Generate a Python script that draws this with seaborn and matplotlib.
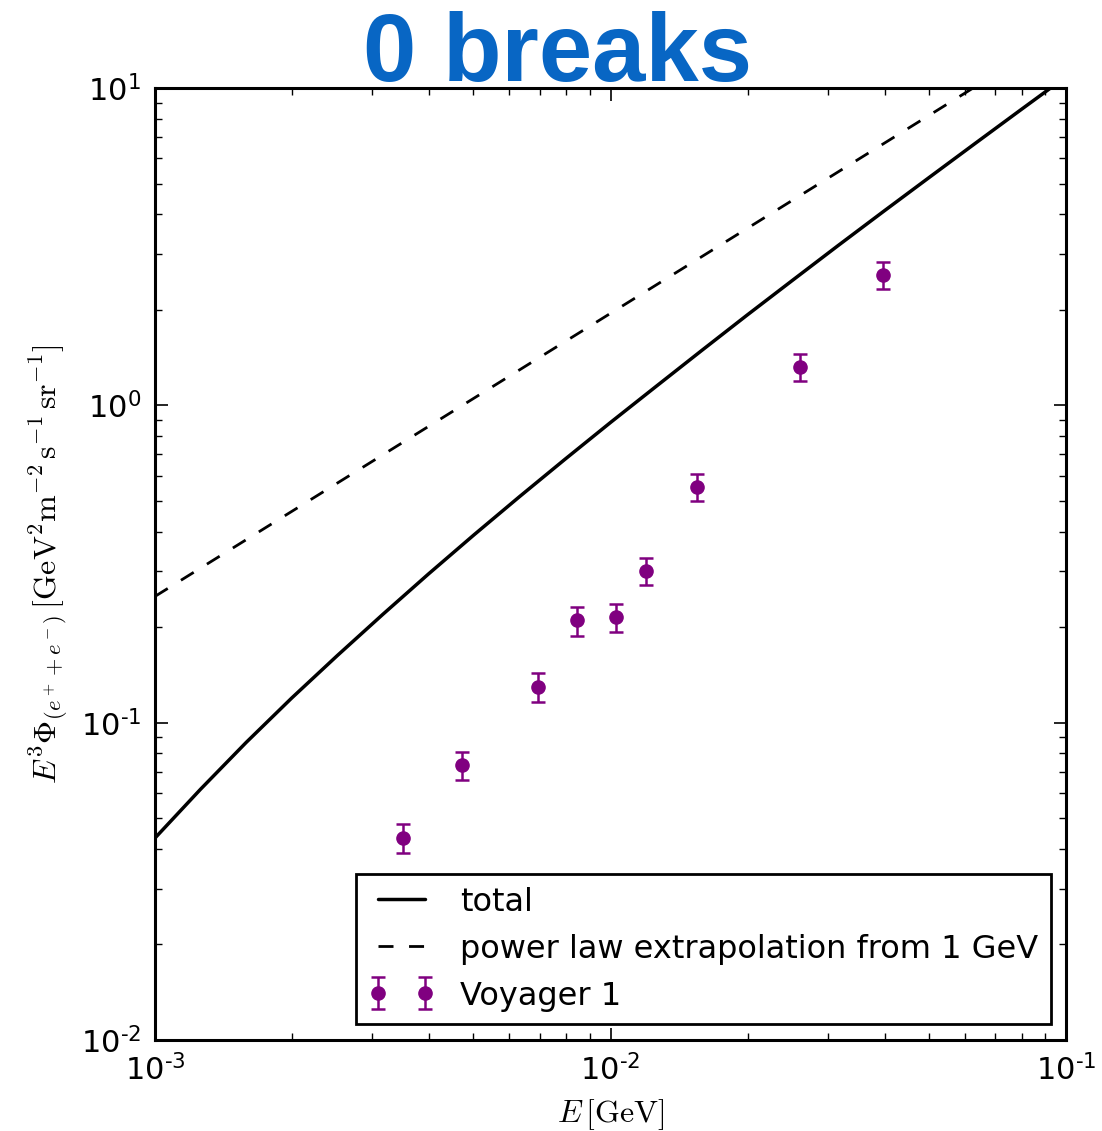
import numpy as np
import pandas as pd
import matplotlib
matplotlib.use("Agg")
import matplotlib.pyplot as plt
import seaborn as sns
from matplotlib.ticker import LogLocator, FuncFormatter, NullFormatter

# ---- data ----
total_E = [0.001000, 0.001259, 0.001585, 0.001995, 0.002512, 0.003162, 0.003981, 0.005012,
           0.00631, 0.007943, 0.01000, 0.01259, 0.01585, 0.01995, 0.02512, 0.03162,
           0.03981, 0.05012, 0.0631, 0.07943, 0.1000]
total_F = [0.0433, 0.0617, 0.0866, 0.1195, 0.1626, 0.2193, 0.2938, 0.3904,
           0.5152, 0.676, 0.883, 1.147, 1.488, 1.925, 2.48, 3.19,
           4.09, 5.23, 6.68, 8.52, 10.85]

pl_E = [0.001, 0.1]
pl_F = [0.250, 15.2]

voy_E = [0.00351, 0.00471, 0.00692, 0.00843, 0.01027, 0.01197, 0.01549, 0.0261, 0.0397]
voy_F = [0.0433, 0.0735, 0.130, 0.210, 0.215, 0.301, 0.554, 1.323, 2.575]
voy_err = [0.0045, 0.0075, 0.0135, 0.022, 0.022, 0.030, 0.055, 0.13, 0.25]

title_text = "0 breaks"
legend_labels = ["total", "power law extrapolation from 1 GeV", "Voyager 1"]

sns.set_style("ticks")
plt.rcParams["font.family"] = ["DejaVu Sans"]
plt.rcParams["mathtext.fontset"] = "cm"
for k in ["text.color", "axes.labelcolor", "xtick.color", "ytick.color", "axes.edgecolor"]:
    plt.rcParams[k] = "black"

fig = plt.figure(figsize=(11.02, 11.31), dpi=100)
ax = fig.add_axes([155/1102, 1 - 1040/1131, (1066-155)/1102, (1040-88)/1131])

df_tot = pd.DataFrame({"E": total_E, "F": total_F})
df_pl = pd.DataFrame({"E": pl_E, "F": pl_F})

sns.lineplot(data=df_tot, x="E", y="F", ax=ax, color="black", lw=2.5,
             label=legend_labels[0], sort=False)
sns.lineplot(data=df_pl, x="E", y="F", ax=ax, color="black", lw=2.0,
             label=legend_labels[1], sort=False)
ax.lines[1].set_dashes([5.4, 5.6])

ax.errorbar(voy_E, voy_F, yerr=voy_err, fmt="o", color="purple", ms=9.5,
            elinewidth=1.8, capsize=5, capthick=1.8, label=legend_labels[2])

ax.set_xscale("log")
ax.set_yscale("log")
ax.set_xlim(1e-3, 1e-1)
ax.set_ylim(1e-2, 1e1)

def fmt(v, pos):
    e = int(np.round(np.log10(v)))
    s = str(e).replace("-", "\u2010")
    return r"$\mathregular{10^{%s}}$" % s

ax.xaxis.set_major_formatter(FuncFormatter(fmt))
ax.yaxis.set_major_formatter(FuncFormatter(fmt))
ax.xaxis.set_minor_formatter(NullFormatter())
ax.yaxis.set_minor_formatter(NullFormatter())
ax.xaxis.set_major_locator(LogLocator(base=10, numticks=10))
ax.yaxis.set_major_locator(LogLocator(base=10, numticks=10))
ax.xaxis.set_minor_locator(LogLocator(base=10, subs=np.arange(2, 10), numticks=20))
ax.yaxis.set_minor_locator(LogLocator(base=10, subs=np.arange(2, 10), numticks=20))

ax.tick_params(which="both", direction="in", top=True, right=True, labelsize=22, color="black")
ax.tick_params(which="major", length=9, width=1.2, pad=10)
ax.tick_params(which="minor", length=5, width=1.0)
for s in ax.spines.values():
    s.set_linewidth(2.2)
    s.set_color("black")

ax.set_xlabel(r"$E\,[\mathrm{GeV}]$", fontsize=23, labelpad=8)
ax.set_ylabel(r"$E^3\Phi_{(e^++e^-)}\,[\mathrm{GeV}^2\mathrm{m}^{-2}\,\mathrm{s}^{-1}\,\mathrm{sr}^{-1}]$",
              fontsize=23, labelpad=8)

leg = ax.legend(loc="lower right", numpoints=2, fontsize=23, frameon=True, fancybox=False,
                handlelength=2.07, borderpad=0.39, labelspacing=0.5, handletextpad=0.8,
                borderaxespad=0.0, bbox_to_anchor=(1 - 15/911, 16/952))
leg.get_frame().set_edgecolor("black")
leg.get_frame().set_linewidth(2)
leg.get_frame().set_alpha(1)

fig.text(0.506, 1 - 81/1131, title_text, ha="center", va="baseline", fontsize=69,
         fontweight="bold", color="#0866c4", family=["Liberation Sans", "DejaVu Sans"])

fig.savefig("out.png", dpi=100)
